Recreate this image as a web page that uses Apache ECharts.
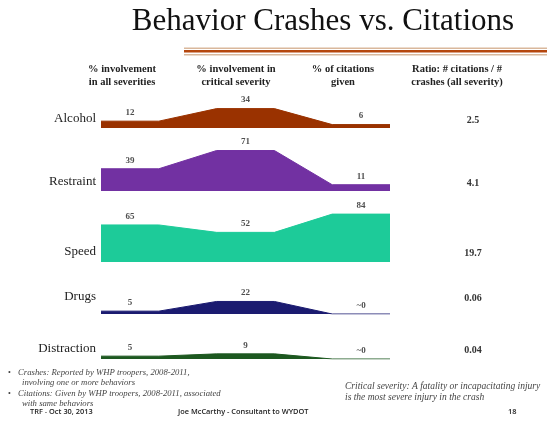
<!DOCTYPE html>
<html>
<head>
<meta charset="utf-8">
<script src="https://cdn.jsdelivr.net/npm/echarts@6/dist/echarts.min.js"></script>
<style>
html, body { margin: 0; padding: 0; background: #fff; }
#chart { width: 547px; height: 425px; }
</style>
</head>
<body>
<div id="chart"></div>
<script>
// data
var behaviors = ["Alcohol", "Restraint", "Speed", "Drugs", "Distraction"];
var allSeverities = [12, 39, 65, 5, 5];
var criticalSeverity = [34, 71, 52, 22, 9];
var citationsGiven = [6, 11, 84, 0, 0];
var citationLabels = ["6", "11", "84", "~0", "~0"];
var ratios = ["2.5", "4.1", "19.7", "0.06", "0.04"];
var headers = [
  "% involvement\nin all severities",
  "% involvement in\ncritical severity",
  "% of citations\ngiven",
  "Ratio: # citations / #\ncrashes (all severity)"
];

var colors = ["#9a3200", "#7231a2", "#1dcb99", "#1b1b70", "#1d5820"];
var baselines = [128, 191, 262, 314, 359];
var rowLabelY = [119, 182, 252, 297, 349];
var headerX = [122, 236, 343, 457];

var serif = "Liberation Serif";
var chart = echarts.init(document.getElementById("chart"));

var grids = [], xAxes = [], yAxes = [], series = [], graphics = [];

behaviors.forEach(function (name, i) {
  grids.push({ left: 101, width: 289, top: baselines[i] - 57, height: 57 });
  xAxes.push({ gridIndex: i, type: "value", min: 0, max: 5, show: false });
  yAxes.push({ gridIndex: i, type: "value", min: 0, max: 100, show: false });

  var a = allSeverities[i], c = criticalSeverity[i], g = citationsGiven[i];
  series.push({
    name: name,
    type: "line",
    xAxisIndex: i,
    yAxisIndex: i,
    symbol: "none",
    silent: true,
    lineStyle: { color: colors[i], width: 1 },
    areaStyle: { color: colors[i], opacity: 1 },
    data: [[0, a], [1, a], [2, c], [3, c], [4, g], [5, g]]
  });
  var texts = [String(a), String(c), citationLabels[i]];
  series.push({
    type: "scatter",
    xAxisIndex: i,
    yAxisIndex: i,
    symbolSize: 0,
    silent: true,
    label: {
      show: true,
      position: "top",
      distance: 4,
      fontFamily: serif,
      fontWeight: "bold",
      fontSize: 9,
      color: "#222",
      formatter: function (p) { return texts[p.dataIndex]; }
    },
    data: [[0.5, a], [2.5, c], [4.5, g]]
  });

  graphics.push({
    type: "text", x: 96, y: rowLabelY[i],
    style: { text: name, font: "13px " + serif, fill: "#222", align: "right", verticalAlign: "middle" }
  });
  graphics.push({
    type: "text", x: 473, y: rowLabelY[i] + 1,
    style: { text: ratios[i], font: "bold 10px " + serif, fill: "#333", align: "center", verticalAlign: "middle" }
  });
});

headers.forEach(function (h, k) {
  graphics.push({
    type: "text", x: headerX[k], y: 76,
    style: { text: h, font: "bold 10.5px " + serif, fill: "#222", align: "center", verticalAlign: "middle", lineHeight: 13 }
  });
});

// title and rule under it
graphics.push({
  type: "text", x: 323, y: 22,
  style: { text: "Behavior Crashes vs. Citations", font: "31px " + serif, fill: "#111", align: "center", verticalAlign: "middle" }
});
graphics.push({ type: "rect", shape: { x: 184, y: 47.5, width: 363, height: 1.5 }, style: { fill: "#d9b89c" } });
graphics.push({ type: "rect", shape: { x: 184, y: 50, width: 363, height: 2.5 }, style: { fill: "#b5470e" } });
graphics.push({ type: "rect", shape: { x: 184, y: 54, width: 363, height: 1.5 }, style: { fill: "#d9b89c" } });

// footnotes
[
  ["\u2022", 8, 373, 8], ["Crashes: Reported by WHP troopers, 2008-2011,", 18, 373, 8.7],
  ["involving one or more behaviors", 22, 383, 8.7],
  ["\u2022", 8, 394, 8], ["Citations: Given by WHP troopers, 2008-2011, associated", 18, 394, 8.7],
  ["with same behaviors", 22, 404, 8.7],
  ["Critical severity: A fatality or incapacitating injury", 345, 386, 9.5],
  ["is the most severe injury in the crash", 345, 397, 9.5]
].forEach(function (t) {
  graphics.push({
    type: "text", x: t[1], y: t[2],
    style: { text: t[0], font: (t[0] === "\u2022" ? "" : "italic ") + t[3] + "px " + serif, fill: "#444", verticalAlign: "middle" }
  });
});
var footFont = "600 7.4px 'Open Sans'";
[["TRF - Oct 30, 2013", 30, 412], ["Joe McCarthy - Consultant to WYDOT", 178, 412], ["18", 508, 412]].forEach(function (t) {
  graphics.push({
    type: "text", x: t[1], y: t[2],
    style: { text: t[0], font: footFont, fill: "#222", verticalAlign: "middle" }
  });
});

chart.setOption({
  animation: false,
  backgroundColor: "#fff",
  grid: grids,
  xAxis: xAxes,
  yAxis: yAxes,
  series: series,
  graphic: graphics
});
</script>
</body>
</html>
